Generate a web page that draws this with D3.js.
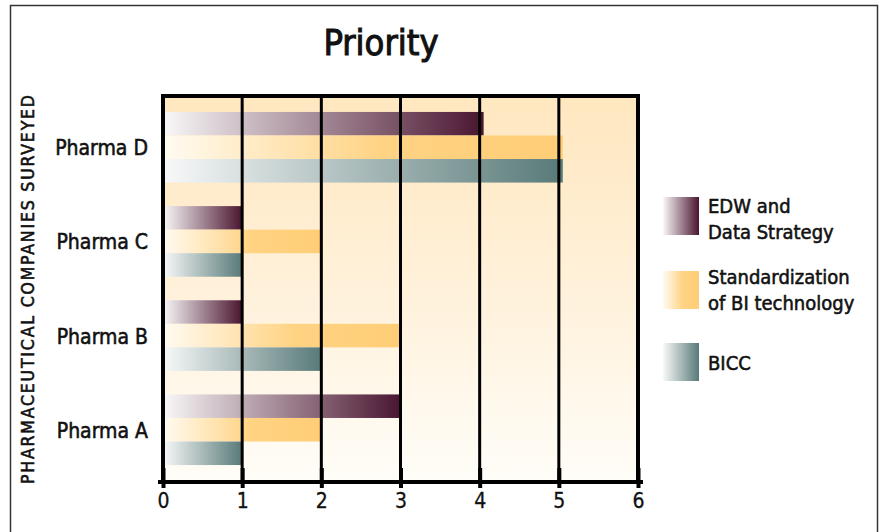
<!DOCTYPE html>
<html>
<head>
<meta charset="utf-8">
<script src="https://cdn.jsdelivr.net/npm/d3@7"></script>
<style>
  html, body { margin: 0; padding: 0; background: #fff; }
  svg { display: block; }
  text { font-family: "DejaVu Sans Condensed", "DejaVu Sans", sans-serif; font-stretch: condensed; fill: #111; stroke: #111; stroke-width: 0.55px; paint-order: stroke; }
</style>
</head>
<body>
<svg id="chart" width="880" height="532"></svg>
<script>
// ---- data ----
const title = "Priority";
const yAxisTitle = "PHARMACEUTICAL COMPANIES SURVEYED";
const categories = ["Pharma D", "Pharma C", "Pharma B", "Pharma A"];
const seriesKeys = ["edw", "std", "bicc"];
const seriesLabels = [["EDW and", "Data Strategy"], ["Standardization", "of BI technology"], ["BICC"]];
const edwValues = [4.05, 1, 1, 3];
const stdValues = [5.05, 2, 3, 2];
const biccValues = [5.05, 1, 2, 1];
const xTicks = [0, 1, 2, 3, 4, 5, 6];

const seriesValues = { edw: edwValues, std: stdValues, bicc: biccValues };
const seriesStops = {
  edw: [[0, "#f9f8f8"], [1, "#4a1530"]],
  std: [[0, "#fffbf2"], [0.55, "#ffd383"], [1, "#ffcd76"]],
  bicc: [[0, "#f8f9f9"], [1, "#587a79"]]
};

const svg = d3.select("#chart");
const defs = svg.append("defs");

// gradients
seriesKeys.forEach(k => {
  const g = defs.append("linearGradient").attr("id", "grad-" + k)
    .attr("x1", 0).attr("x2", 1).attr("y1", 0).attr("y2", 0);
  seriesStops[k].forEach(s => g.append("stop").attr("offset", s[0]).attr("stop-color", s[1]));
});
const bg = defs.append("linearGradient").attr("id", "grad-bg")
  .attr("x1", 0).attr("x2", 0).attr("y1", 0).attr("y2", 1);
bg.append("stop").attr("offset", 0).attr("stop-color", "#ffe7bf");
bg.append("stop").attr("offset", 0.5).attr("stop-color", "#fff1da");
bg.append("stop").attr("offset", 1).attr("stop-color", "#fffdf8");

// outer frame
svg.append("rect").attr("x", 10.5).attr("y", 5.5).attr("width", 867).attr("height", 560)
  .attr("fill", "none").attr("stroke", "#333").attr("stroke-width", 1.5);

// scales
const x = d3.scaleLinear().domain([0, 6]).range([163, 638]);
const y = d3.scaleBand().domain(categories).range([95, 482]).paddingInner(0.25).paddingOuter(0.18);
const ySub = d3.scaleBand().domain(seriesKeys).range([0, y.bandwidth()]);

// plot background
svg.append("rect").attr("x", x(0)).attr("y", 95).attr("width", x(6) - x(0)).attr("height", 482 - 95)
  .attr("fill", "url(#grad-bg)");

// bars
categories.forEach((c, i) => {
  svg.append("g").selectAll("rect").data(seriesKeys).join("rect")
    .attr("x", x(0))
    .attr("y", k => y(c) + ySub(k))
    .attr("width", k => x(seriesValues[k][i]) - x(0))
    .attr("height", ySub.bandwidth())
    .attr("fill", k => "url(#grad-" + k + ")");
});

// grid lines
svg.append("g").selectAll("line").data(xTicks).join("line")
  .attr("x1", d => x(d)).attr("x2", d => x(d))
  .attr("y1", 95).attr("y2", 482)
  .attr("stroke", "#000")
  .attr("stroke-width", d => (d === 0 || d === 6) ? 4 : 3);
// top border
svg.append("line").attr("x1", x(0) - 2).attr("x2", x(6) + 2).attr("y1", 96).attr("y2", 96)
  .attr("stroke", "#000").attr("stroke-width", 4);

// x axis
const axis = svg.append("g").attr("transform", "translate(0,482)")
  .call(d3.axisBottom(x).tickValues(xTicks).tickFormat(d3.format("d")).tickSizeOuter(0));
axis.select(".domain").remove();
axis.insert("line", ":first-child").attr("x1", x(0) - 5).attr("x2", x(6) + 5).attr("y1", 0).attr("y2", 0)
  .attr("stroke", "#000").attr("stroke-width", 4);
axis.selectAll(".tick line").attr("y1", -14).attr("y2", 6).attr("stroke", "#000").attr("stroke-width", 4);
axis.selectAll(".tick text").attr("y", 26).attr("dy", 0)
  .style("font-size", "21px").style("font-family", "\"DejaVu Sans Condensed\", \"DejaVu Sans\", sans-serif")
  .attr("fill", "#111").style("stroke-width", "0.3px");

// category labels
svg.append("g").selectAll("text").data(categories).join("text")
  .attr("x", 148).attr("y", c => y(c) + y.bandwidth() / 2 + 8)
  .attr("text-anchor", "end").style("font-size", "21px")
  .text(c => c);

// y axis title
svg.append("text")
  .attr("transform", "translate(34,484) rotate(-90)")
  .attr("textLength", 389).attr("lengthAdjust", "spacing")
  .style("font-size", "17.5px")
  .text(yAxisTitle);

// title
svg.append("text").attr("x", 381).attr("y", 55).attr("text-anchor", "middle")
  .style("font-size", "36px").style("stroke-width", "1px").text(title);

// legend
const legendTops = [197, 271, 343];
const legendFirstBaseline = [16, 13, 27];
const legend = svg.append("g").selectAll("g").data(seriesKeys).join("g")
  .attr("transform", (k, i) => `translate(663,${legendTops[i]})`);
legend.append("rect").attr("width", 36).attr("height", 38).attr("fill", k => "url(#grad-" + k + ")");
legend.each(function(k, i) {
  const lines = seriesLabels[i];
  const g = d3.select(this);
  lines.forEach((t, j) => {
    g.append("text").attr("x", 45)
      .attr("y", legendFirstBaseline[i] + j * 26)
      .style("font-size", "20px").text(t);
  });
});
</script>
</body>
</html>
